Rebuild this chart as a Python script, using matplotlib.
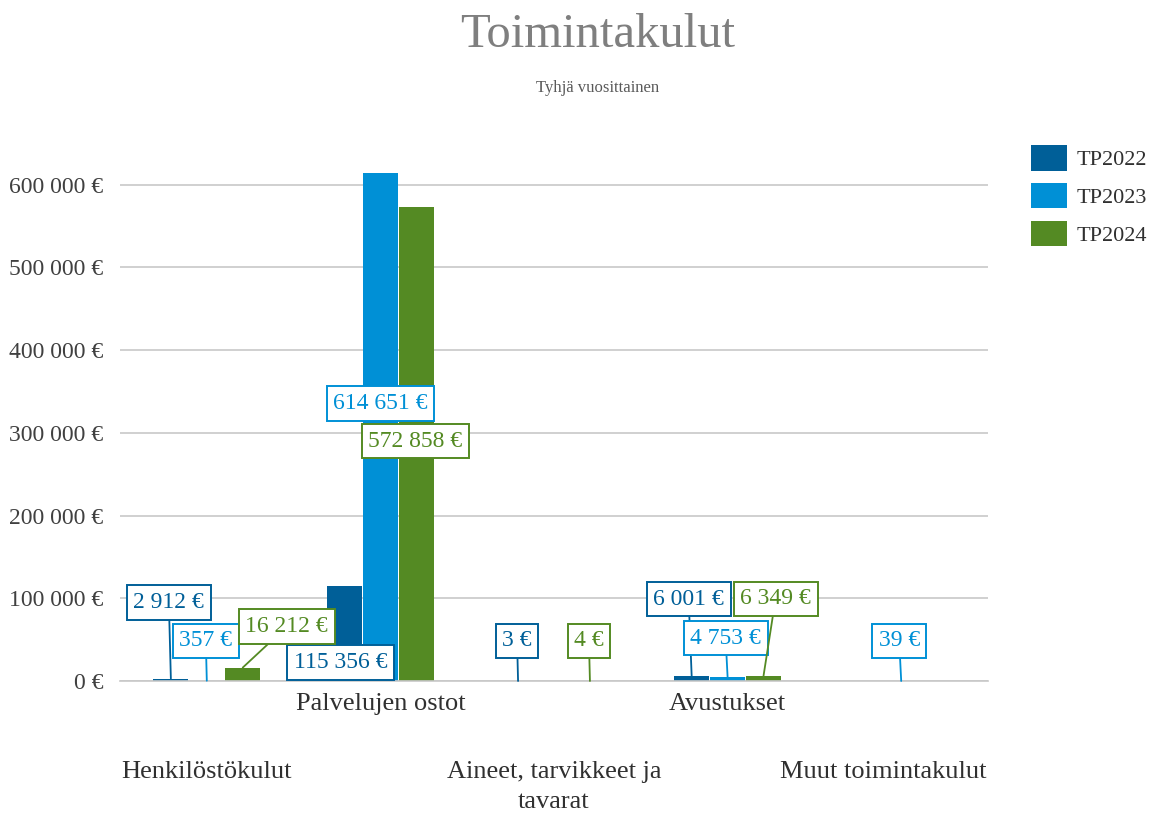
import matplotlib
matplotlib.use("Agg")
import matplotlib.pyplot as plt
import numpy as np

categories = ["Henkilöstökulut", "Palvelujen ostot", "Aineet, tarvikkeet ja\ntavarat",
              "Avustukset", "Muut toimintakulut"]
series_names = ["TP2022", "TP2023", "TP2024"]
tp2022 = [2912, 115356, 3, 6001, None]
tp2023 = [357, 614651, None, 4753, 39]
tp2024 = [16212, 572858, 4, 6349, None]
yticks = [0, 100000, 200000, 300000, 400000, 500000, 600000]

colors = ["#005f98", "#0090d6", "#548a23"]
# label offsets (pixels) relative to bar top, and whether to draw a leader line
offsets = {
    (0, 0): (-2, 76, True), (0, 1): (-1, 40, True), (0, 2): (44, 41, True),
    (1, 0): (-4, -77, False), (1, 1): (0, -231, False), (1, 2): (-1, -234, False),
    (2, 0): (-1, 40, True), (2, 2): (-1, 40, True),
    (3, 0): (-3, 77, True), (3, 1): (-2, 39, True), (3, 2): (12, 77, True),
    (4, 1): (-2, 40, True),
}

def fmt(v):
    return f"{v:,.0f}".replace(",", " ") + " €"

plt.rcParams['font.family'] = ['Liberation Serif', 'DejaVu Serif']
fig = plt.figure(figsize=(11.55, 8.13), dpi=100)
ax = fig.add_axes([120/1155, 1-681/813, 868/1155, 579/813])

x = np.arange(len(categories))
w = 0.207
data = [tp2022, tp2023, tp2024]
for si, (vals, c, name) in enumerate(zip(data, colors, series_names)):
    xs = x + (si - 1) * w
    hv = [v if v is not None else 0 for v in vals]
    ax.bar(xs, hv, width=w * 0.97, color=c, label=name, zorder=2)
    for ci, v in enumerate(vals):
        if v is None:
            continue
        dx, dy, lead = offsets[(ci, si)]
        ap = dict(arrowstyle='-', color=c, lw=1.3, shrinkA=0, shrinkB=0) if lead else None
        ax.annotate(fmt(v), xy=(xs[ci], v), xytext=(dx, dy), textcoords='offset pixels',
                    ha='center', va='center', fontsize=17, color=c, zorder=5,
                    bbox=dict(boxstyle='square,pad=0.28', fc='white', ec=c, lw=1.4),
                    arrowprops=ap)

ax.set_xlim(-0.5, len(categories) - 0.5)
ax.set_ylim(0, 700000)
ax.set_yticks(yticks)
ax.set_yticklabels([fmt(v) for v in yticks], fontsize=17, color='#404040')
ax.tick_params(axis='y', length=0, pad=12)
ax.set_xticks([])
ax.grid(axis='y', color='#c8c8c8', lw=1.2, zorder=0)
for s in ['top', 'right', 'left']:
    ax.spines[s].set_visible(False)
ax.spines['bottom'].set_color('#c8c8c8')
ax.spines['bottom'].set_linewidth(1.2)

xlabel_dx = [0, 0, 0, 0, -18]
for i, cat in enumerate(categories):
    dy = -12 if i % 2 == 1 else -80
    ax.annotate(cat, xy=(i, 0), xycoords=('data', 'axes fraction'),
                xytext=(xlabel_dx[i], dy), textcoords='offset pixels',
                ha='center', va='top', fontsize=19, color='#303030',
                linespacing=1.45, annotation_clip=False)

fig.text(598/1155, 1-35/813, "Toimintakulut", ha='center', va='center',
         fontsize=35, color='#7f7f7f')
fig.text(598/1155, 1-88/813, "Tyhjä vuosittainen", ha='center', va='center',
         fontsize=12, color='#595959')

leg = fig.legend(loc='upper left', bbox_to_anchor=(1022/1155, 1-136/813), frameon=False,
                 fontsize=16, handlelength=1.62, handleheight=1.4, labelspacing=0.55,
                 handletextpad=0.45, borderaxespad=0)
for t in leg.get_texts():
    t.set_color('#303030')

fig.savefig("out.png", dpi=100)
